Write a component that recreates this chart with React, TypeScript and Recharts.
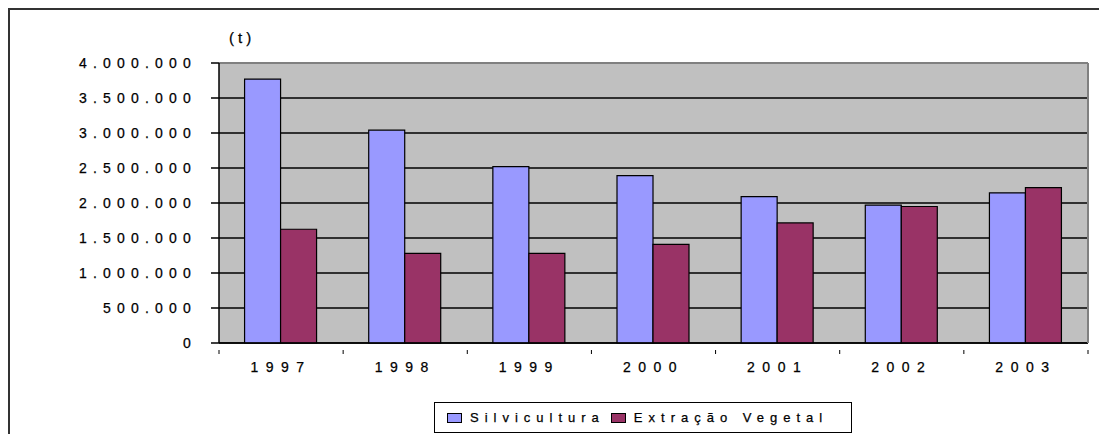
import React from 'react';
import { BarChart, Bar, XAxis, YAxis, CartesianGrid, ReferenceLine } from 'recharts';

const categories = ['1997', '1998', '1999', '2000', '2001', '2002', '2003'];
const silvicultura = [3770000, 3040000, 2520000, 2390000, 2090000, 1970000, 2145000];
const extracaoVegetal = [1625000, 1280000, 1280000, 1410000, 1715000, 1950000, 2220000];
const yTicks = [0, 500000, 1000000, 1500000, 2000000, 2500000, 3000000, 3500000, 4000000];
const seriesNames = ['Silvicultura', 'Extração Vegetal'];
const seriesKeys = ['silvicultura', 'extracao'];
const seriesColors = ['#9999FF', '#993366'];
const unitLabel = '(t)';

const data = categories.map((year, i) => ({
  year,
  silvicultura: silvicultura[i],
  extracao: extracaoVegetal[i],
}));

const FONT = "Arial, 'Liberation Sans', sans-serif";

const fmt = (v: number) => String(v).replace(/\B(?=(\d{3})+(?!\d))/g, '.');

const YTick = (props: any) => {
  const { x, y, payload } = props;
  return (
    <text x={x} y={y} dy={5} textAnchor="end" fontFamily={FONT} fontSize={14} letterSpacing={6.2} fill="#000" stroke="#000" strokeWidth={0.25}>
      {fmt(payload.value)}
    </text>
  );
};

const XTick = (props: any) => {
  const { x, y, payload, index } = props;
  const off = payload.offset || 0;
  return (
    <g>
      <line x1={x - off} x2={x - off} y1={y - 1} y2={y + 3} stroke="#000" strokeWidth={1} />
      {index === categories.length - 1 && (
        <line x1={x + off} x2={x + off} y1={y - 1} y2={y + 3} stroke="#000" strokeWidth={1} />
      )}
      <text x={x} y={y} dy={21} textAnchor="middle" fontFamily={FONT} fontSize={14} letterSpacing={7.5} fill="#000" stroke="#000" strokeWidth={0.25}>
        {payload.value}
      </text>
    </g>
  );
};

export default function App() {
  return (
    <div style={{ position: 'fixed', left: 0, top: 0, width: 1099, height: 434, overflow: 'hidden', background: '#fff' }}>
      <div
        style={{
          position: 'absolute',
          left: 8,
          top: 8,
          width: 1200,
          height: 600,
          borderLeft: '2px solid #333',
          borderTop: '2px solid #333',
        }}
      />
      <div style={{ position: 'absolute', left: 0, top: 0 }}>
        <BarChart
          width={1099}
          height={434}
          data={data}
          margin={{ top: 63, right: 10, left: 0, bottom: 0 }}
          barCategoryGap="20.6%"
          barGap={0}
        >
          <CartesianGrid vertical={false} fill="#C0C0C0" stroke="#000" strokeWidth={1.5} />
          <XAxis
            dataKey="year"
            height={91}
            interval={0}
            axisLine={{ stroke: '#000', strokeWidth: 1.5 }}
            tickLine={false}
            tick={<XTick />}
          />
          <YAxis
            width={219}
            domain={[0, 4000000]}
            ticks={yTicks}
            interval={0}
            tickSize={8}
            tickMargin={14}
            tickLine={{ stroke: '#000', strokeWidth: 1.5 }}
            axisLine={{ stroke: '#000', strokeWidth: 1.5 }}
            tick={<YTick />}
          />
          <YAxis
            yAxisId="right"
            orientation="right"
            width={1}
            domain={[0, 4000000]}
            tick={false}
            tickLine={false}
            axisLine={{ stroke: '#808080', strokeWidth: 2 }}
          />
          <ReferenceLine y={4000000} stroke="#808080" strokeWidth={2} />
          {seriesKeys.map((k, i) => (
            <Bar
              key={k}
              dataKey={k}
              name={seriesNames[i]}
              fill={seriesColors[i]}
              stroke="#000"
              strokeWidth={1.2}
              isAnimationActive={false}
            />
          ))}
        </BarChart>
      </div>
      <div
        style={{
          position: 'absolute',
          left: 229,
          top: 29,
          fontFamily: FONT,
          fontSize: 15,
          letterSpacing: 4,
          color: '#000',
          WebkitTextStroke: '0.25px #000',
        }}
      >
        {unitLabel}
      </div>
      <div
        style={{
          position: 'absolute',
          left: 434,
          top: 402,
          width: 418,
          height: 31,
          boxSizing: 'border-box',
          border: '1.5px solid #000',
          display: 'flex',
          alignItems: 'center',
          paddingLeft: 12,
          fontFamily: FONT,
          fontSize: 13,
          color: '#000',
          WebkitTextStroke: '0.25px #000',
        }}
      >
        {seriesNames.map((n, i) => (
          <div key={n} style={{ display: 'flex', alignItems: 'center', marginRight: i === 0 ? 6 : 0 }}>
            <div
              style={{
                width: 15,
                height: 10,
                boxSizing: 'border-box',
                border: '1.5px solid #000',
                background: seriesColors[i],
                marginRight: 8,
              }}
            />
            <span style={{ letterSpacing: 6 }}>{n}</span>
          </div>
        ))}
      </div>
    </div>
  );
}
